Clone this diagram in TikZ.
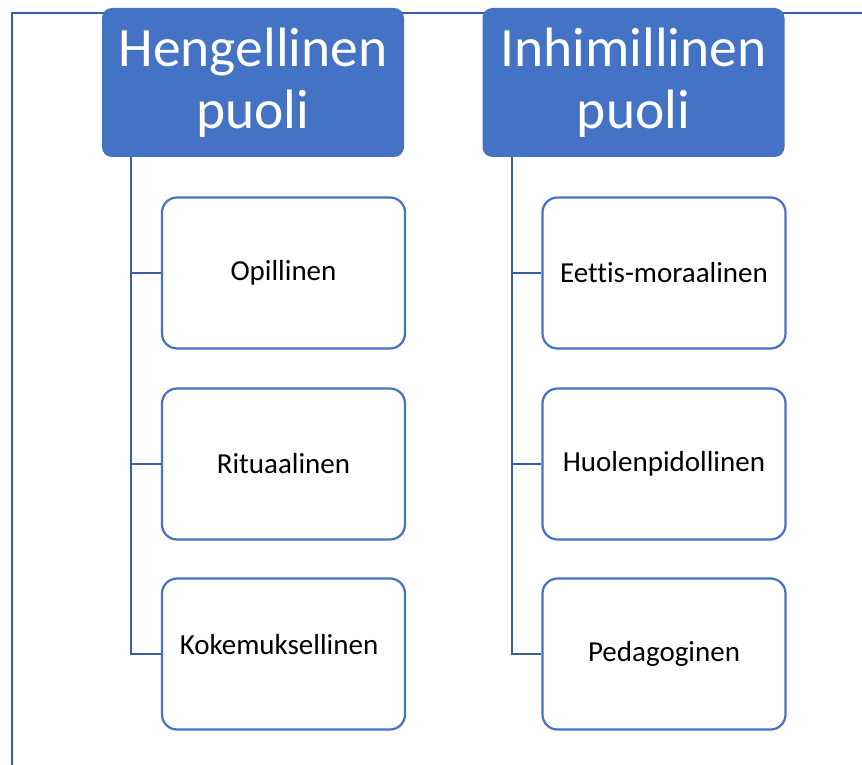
\documentclass[tikz,border=0pt]{standalone}
\usepackage{fontspec}
\setmainfont[Ligatures=NoCommon]{Carlito}
\definecolor{hdr}{HTML}{4472C4}
\definecolor{conn}{HTML}{3A5DA6}
\begin{document}
\begin{tikzpicture}[x=1pt,y=1pt,
  header/.style={draw=none,fill=hdr,rounded corners=10pt,minimum width=302pt,minimum height=149pt,
     text=white,font=\fontsize{55.5}{62}\selectfont,align=center,inner sep=0pt},
  child/.style={draw=hdr,line width=2.2pt,fill=white,rounded corners=15pt,minimum width=243pt,minimum height=151pt,
     font=\fontsize{29}{34}\selectfont,inner sep=0pt},
  conn/.style={draw=conn,line width=2.4pt}]
\useasboundingbox (0,0) rectangle (862,-765);
% frame
\coordinate (fA) at (12,-765);
\coordinate (fB) at (12,-13);
\coordinate (fC) at (862,-13);
\draw[conn] (fA) -- (fB) -- (fC);
% headers
\node[header] (h1) at (253,-82.5) {Hengellinen\\puoli};
\node[header] (h2) at (633.5,-82.5) {Inhimillinen\\puoli};
% children
\node[child] (a1) at (283.5,-273) {Opillinen};
\node[child] (a2) at (283.5,-464) {Rituaalinen};
\node[child] (a3) at (283.5,-654) {};
\node[font=\fontsize{29}{34}\selectfont] (a3t) at (279,-645) {Kokemuksellinen};
\node[child] (b1) at (664,-273) {Eettis-moraalinen};
\node[child] (b2) at (664,-464) {Huolenpidollinen};
\node[child] (b3) at (664,-654) {Pedagoginen};
% connectors
\coordinate (t1) at (131,-157);
\coordinate (t2) at (512,-157);
\draw[conn] (t1) |- (a3.west);
\draw[conn] (t1 |- a1.west) -- (a1.west);
\draw[conn] (t1 |- a2.west) -- (a2.west);
\draw[conn] (t2) |- (b3.west);
\draw[conn] (t2 |- b1.west) -- (b1.west);
\draw[conn] (t2 |- b2.west) -- (b2.west);
\end{tikzpicture}
\end{document}
